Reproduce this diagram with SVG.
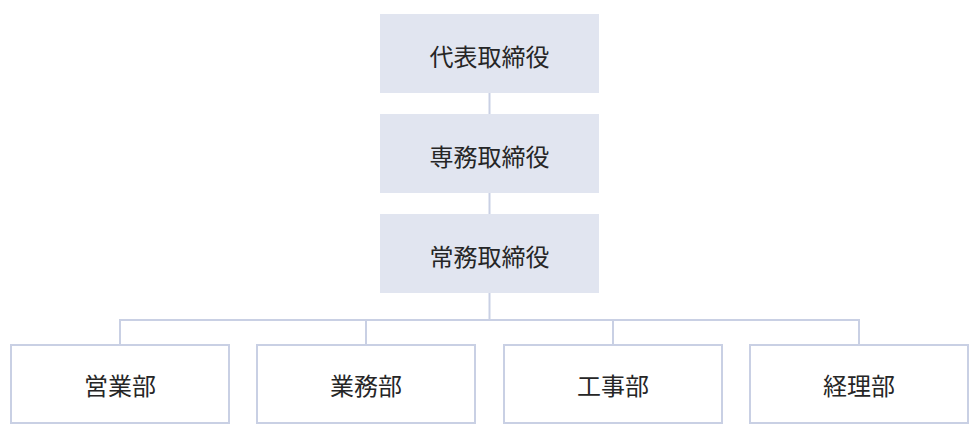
<svg xmlns="http://www.w3.org/2000/svg" width="980" height="440" viewBox="0 0 980 440">
<style>
.exec{fill:#e1e5f0;}
.dept{fill:#ffffff;stroke:#c9d0e4;stroke-width:2;}
.lbl{font-family:"Noto Sans CJK JP","Noto Sans CJK SC",sans-serif;font-size:24px;fill:#262626;text-anchor:middle;dominant-baseline:central;}
.conn{fill:none;stroke:#c9d0e4;stroke-width:2;}
</style>
<rect width="980" height="440" fill="#ffffff"/>
<g id="connectors">
<line class="conn" x1="489.5" y1="93" x2="489.5" y2="114"/>
<line class="conn" x1="489.5" y1="193" x2="489.5" y2="214"/>
<polyline class="conn" points="489.5,293 489.5,320"/>
<polyline class="conn" points="120,345 120,320 859,320 859,345"/>
<line class="conn" x1="366" y1="320" x2="366" y2="345"/>
<line class="conn" x1="613" y1="320" x2="613" y2="345"/>
</g>
<g id="ceo"><rect class="exec" x="380" y="14" width="219" height="79"/><text class="lbl" x="489.5" y="55">代表取締役</text></g>
<g id="senior"><rect class="exec" x="380" y="114" width="219" height="79"/><text class="lbl" x="489.5" y="155">専務取締役</text></g>
<g id="managing"><rect class="exec" x="380" y="214" width="219" height="79"/><text class="lbl" x="489.5" y="255">常務取締役</text></g>
<g id="sales"><rect class="dept" x="11" y="345" width="218" height="78"/><text class="lbl" x="120" y="384.5">営業部</text></g>
<g id="business"><rect class="dept" x="257" y="345" width="218" height="78"/><text class="lbl" x="366" y="384.5">業務部</text></g>
<g id="construction"><rect class="dept" x="504" y="345" width="218" height="78"/><text class="lbl" x="613" y="384.5">工事部</text></g>
<g id="accounting"><rect class="dept" x="750" y="345" width="218" height="78"/><text class="lbl" x="859" y="384.5">経理部</text></g>
</svg>
